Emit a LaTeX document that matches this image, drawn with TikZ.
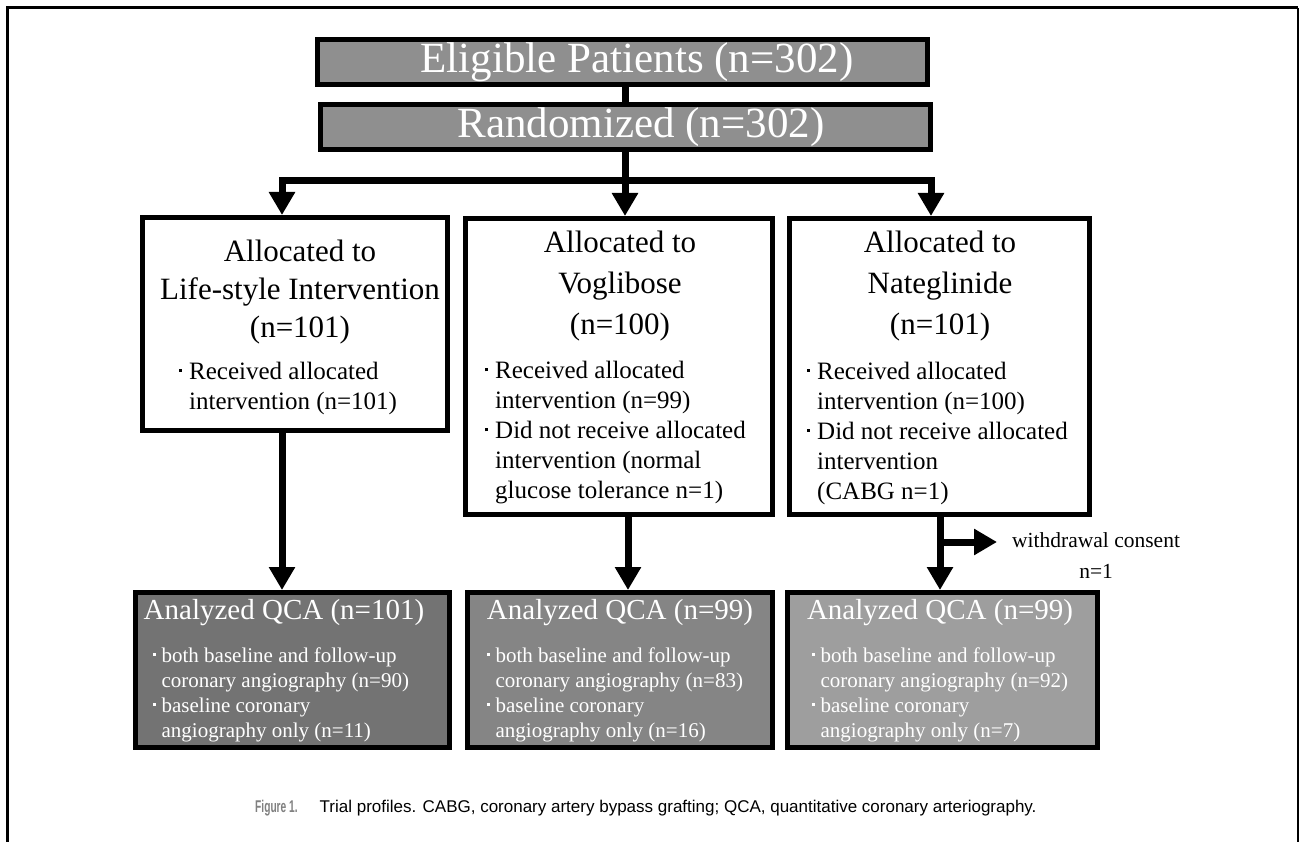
\documentclass[tikz,border=0pt]{standalone}
\usepackage{fontspec}
\setmainfont{Liberation Serif}
\newfontfamily\capfont{Liberation Sans}
\usetikzlibrary{arrows.meta}

\definecolor{topgrey}{gray}{0.56}
\definecolor{qcagreyA}{gray}{0.45}
\definecolor{qcagreyB}{gray}{0.52}
\definecolor{qcagreyC}{gray}{0.62}

\newcommand{\dotmark}{\makebox[0.4em][l]{\raisebox{0.3em}{\rule{0.12em}{0.12em}}}}
\newcommand{\dotgap}{\hspace*{0.4em}}

\tikzset{
  greybox/.style={draw, line width=5pt, fill=#1, inner sep=0pt},
  whitebox/.style={draw, line width=5pt, fill=white, inner sep=0pt},
  bar/.style={line width=7pt},
  flow/.style={line width=7pt, line join=miter, -{Triangle[width=25pt,length=23pt]}},
  headtxt/.style={text=white, inner sep=0pt, font=\fontsize{43}{46}\selectfont},
  alloctxt/.style={align=center, inner sep=0pt, font=\fontsize{31}{41}\selectfont},
  itemtxt/.style={align=left, anchor=west, inner sep=0pt, font=\fontsize{25}{30}\selectfont},
  qcahead/.style={text=white, inner sep=0pt, font=\fontsize{29}{32}\selectfont},
  qcaitem/.style={text=white, align=left, anchor=west, inner sep=0pt, font=\fontsize{21}{25}\selectfont}
}

\begin{document}
\begin{tikzpicture}[x=1pt,y=-1pt]
\useasboundingbox (0,0) rectangle (1301,842);
% frame
\draw[line width=3pt] (7,842) -- (7,8) -- (1298,8);
\draw[line width=1.5pt] (1298,8) -- (1298,842);

% top boxes
\node[greybox=topgrey, minimum width=610pt, minimum height=45pt] (elig) at (622.5,62) {};
\node[greybox=topgrey, minimum width=610pt, minimum height=45pt] (rand) at (625.5,127) {};
\node[headtxt] (eligtxt) at (637,62) {Eligible Patients (n=302)};
\node[headtxt] (randtxt) at (641,127) {Randomized (n=302)};

% allocation boxes
\node[whitebox, minimum width=305pt, minimum height=213pt] (life) at (295,324) {};
\node[whitebox, minimum width=307pt, minimum height=296pt] (vog) at (619,366.5) {};
\node[whitebox, minimum width=300pt, minimum height=296pt] (nat) at (939.5,366.5) {};
\node[alloctxt, font=\fontsize{31}{38}\selectfont] (lifetitle) at (300,292.5) {Allocated to\\Life-style Intervention\\(n=101)};
\node[alloctxt] (vogtitle) at (620,286) {Allocated to\\Voglibose\\(n=100)};
\node[alloctxt] (nattitle) at (940,286) {Allocated to\\Nateglinide\\(n=101)};
\node[itemtxt] (lifeitems) at (179,388) {\dotmark Received allocated\\\dotgap intervention (n=101)};
\node[itemtxt] (vogitems) at (485,433) {\dotmark Received allocated\\\dotgap intervention (n=99)\\\dotmark Did not receive allocated\\\dotgap intervention (normal\\\dotgap glucose tolerance n=1)};
\node[itemtxt] (natitems) at (807,433) {\dotmark Received allocated\\\dotgap intervention (n=100)\\\dotmark Did not receive allocated\\\dotgap intervention\\\dotgap (CABG n=1)};

% analysed boxes
\node[greybox=qcagreyA, minimum width=314pt, minimum height=155pt] (qcaA) at (292.5,670) {};
\node[greybox=qcagreyB, minimum width=305pt, minimum height=155pt] (qcaB) at (620,670) {};
\node[greybox=qcagreyC, minimum width=310pt, minimum height=155pt] (qcaC) at (942.5,670) {};
\node[qcahead] (qcaAtitle) at (284,613) {Analyzed QCA (n=101)};
\node[qcahead] (qcaBtitle) at (620,613) {Analyzed QCA (n=99)};
\node[qcahead] (qcaCtitle) at (940,613) {Analyzed QCA (n=99)};
\node[qcaitem] (qcaAitems) at (153,694.5) {\dotmark both baseline and follow-up\\\dotgap coronary angiography (n=90)\\\dotmark baseline coronary\\\dotgap angiography only (n=11)};
\node[qcaitem] (qcaBitems) at (487,694.5) {\dotmark both baseline and follow-up\\\dotgap coronary angiography (n=83)\\\dotmark baseline coronary\\\dotgap angiography only (n=16)};
\node[qcaitem] (qcaCitems) at (812,694.5) {\dotmark both baseline and follow-up\\\dotgap coronary angiography (n=92)\\\dotmark baseline coronary\\\dotgap angiography only (n=7)};

% connectors
\coordinate (split) at (625,181);
\coordinate (lcol) at (282,181);
\coordinate (rcol) at (931,181);
\coordinate (mcol) at (628,560);
\coordinate (ncol) at (940,542);
\coordinate (wd) at (997,542);
\draw[bar] (elig.south -| split) -- (rand.north -| split);
\draw[flow] (rand.south -| split) -- (vog.north -| split);
\draw[flow] (split) -| (life.north -| lcol);
\draw[flow] (split) -| (nat.north -| rcol);
\draw[flow] (life.south -| lcol) -- (qcaA.north -| lcol);
\draw[flow] (vog.south -| mcol) -- (qcaB.north -| mcol);
\draw[flow] (nat.south -| ncol) -- (qcaC.north -| ncol);
\draw[flow] (ncol) -- (wd);
\node[anchor=west, align=center, inner sep=0pt, font=\fontsize{21.5}{31}\selectfont] (wdtxt) at (1012,556) {withdrawal consent\\n=1};

% caption
\node[anchor=west, inner sep=0pt, font=\capfont\fontsize{17}{20}\selectfont] (cap) at (255,808) {\scalebox{0.6}[1]{\bfseries\color{gray}Figure 1.}\hspace{22pt}Trial profiles. CABG, coronary artery bypass grafting; QCA, quantitative coronary arteriography.};
\end{tikzpicture}
\end{document}
